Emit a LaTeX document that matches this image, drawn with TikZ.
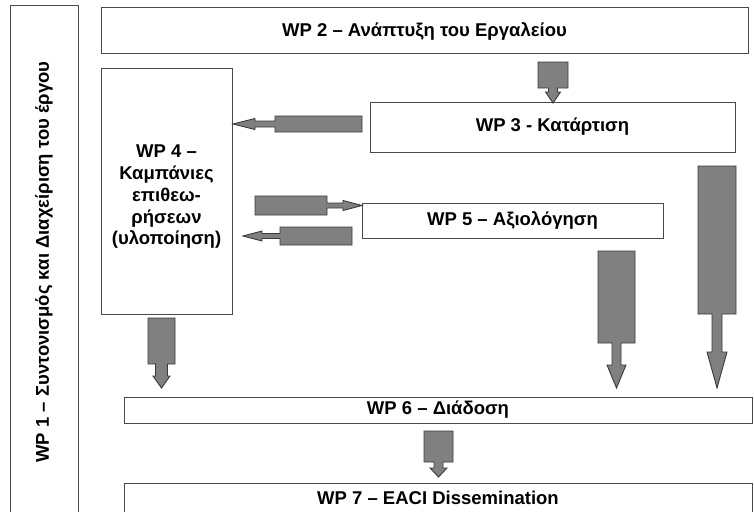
\documentclass[tikz,border=0pt]{standalone}
\usepackage{fontspec}
\setmainfont{Liberation Sans}
\definecolor{arrfill}{HTML}{808080}
\definecolor{arrline}{HTML}{3A3A3A}
\definecolor{boxline}{HTML}{4A4A4A}
\newcommand{\varrow}[8]{% cx, rect top, rect bottom, rect half w, stem half w, head base, head half w, tip
  \draw[blockarrow] (#1-#4,#2) -- (#1+#4,#2) -- (#1+#4,#3) -- (#1+#5,#3) -- (#1+#5,#6) -- (#1+#7,#6)
    -- (#1,#8) -- (#1-#7,#6) -- (#1-#5,#6) -- (#1-#5,#3) -- (#1-#4,#3) -- cycle;}
\newcommand{\harrow}[8]{% cy, rect far x, rect near x, rect half h, stem half h, head base x, head half h, tip x
  \draw[blockarrow] (#2,#1-#4) -- (#3,#1-#4) -- (#3,#1-#5) -- (#6,#1-#5) -- (#6,#1-#7) -- (#8,#1)
    -- (#6,#1+#7) -- (#6,#1+#5) -- (#3,#1+#5) -- (#3,#1+#4) -- (#2,#1+#4) -- cycle;}
\begin{document}
\begin{tikzpicture}[x=1pt,y=-1pt,
  wpfont/.style={font=\fontsize{18.5}{21.75}\selectfont\bfseries},
  wpbox/.style={draw=boxline, line width=1pt, fill=white, inner sep=0pt, align=center, wpfont},
  blockarrow/.style={draw=arrline, line width=0.9pt, fill=arrfill, line join=miter}]
\useasboundingbox (0,0) rectangle (754,511);
\clip (0,0) rectangle (754,511);
\fill[white] (0,0) rectangle (754,511);
% WP1
\node[wpbox, minimum width=68pt, minimum height=520pt] (wp1) at (44,266) {};
\node[rotate=90, wpfont] (wp1t) at (44,262) {WP 1 – Συντονισμός και Διαχείριση του έργου};
% WP2
\node[wpbox, minimum width=647pt, minimum height=46pt] (wp2) at (424.5,31) {WP 2 – Ανάπτυξη του Εργαλείου};
% WP3
\node[wpbox, minimum width=365pt, minimum height=50pt] (wp3) at (552.5,127) {WP 3 - Κατάρτιση};
% WP4
\node[wpbox, minimum width=131pt, minimum height=246pt] (wp4) at (166.5,191) {};
\node[align=center, inner sep=0pt, wpfont] (wp4t) at (166.5,197) {WP 4 –\\Καμπάνιες\\επιθεω-\\ρήσεων\\(υλοποίηση)};
% WP5
\node[wpbox, minimum width=301pt, minimum height=35pt] (wp5) at (512.5,220.5) {WP 5 – Αξιολόγηση};
% WP6
\node[wpbox, minimum width=628pt, minimum height=26pt] (wp6) at (438,410) {WP 6 – Διάδοση};
% WP7
\node[wpbox, minimum width=628pt, minimum height=29pt] (wp7) at (438,497.5) {WP 7 – EACI Dissemination};
% block arrows
\varrow{553}{62}{88}{15}{4.5}{92}{7.5}{103}
\varrow{161.5}{318}{364}{13.5}{6}{376}{8.5}{388}
\varrow{616.5}{251}{343}{18.5}{4.5}{365}{9.5}{388}
\varrow{717}{166}{314}{19}{5}{352}{10}{388}
\varrow{438.5}{431}{462}{14.5}{4.5}{468}{8.5}{477}
\harrow{124}{362}{275}{8}{3}{255}{5.5}{233}
\harrow{205.5}{255}{327}{9.5}{2.5}{343}{5}{362}
\harrow{236}{352}{280}{9}{2.5}{262}{5}{243}
\end{tikzpicture}
\end{document}
